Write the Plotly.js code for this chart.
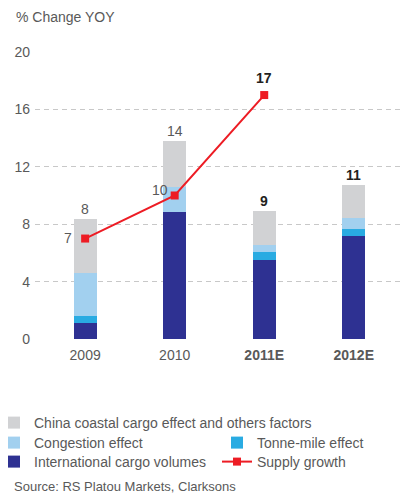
<!DOCTYPE html>
<html>
<head>
<meta charset="utf-8">
<script src="https://cdn.plot.ly/plotly-3.0.1.min.js"></script>
<style>html,body{margin:0;padding:0;background:#fff;}#chart{width:417px;height:493px;}</style>
</head>
<body>
<div id="chart"></div>
<script>
const categories = ["2009", "2010", "2011E", "2012E"];
const tickLabels = ["2009", "2010", "<b>2011E</b>", "<b>2012E</b>"];
const internationalCargo = [1.1, 8.85, 5.5, 7.2];
const tonneMile = [0.5, 0, 0.55, 0.5];
const congestion = [3.0, 1.75, 0.5, 0.7];
const chinaCoastal = [3.75, 3.2, 2.35, 2.3];
const supplyGrowth = [7, 10, 17, null];
const totalLabelBold = [false, false, true, true];

const FONT = "Liberation Sans, Arial, Helvetica, sans-serif";
const GREY_TXT = "#595959";
const DARK_TXT = "#231f20";
const W = 0.257;
const M = {l: 35, r: 14, t: 52, b: 154};
const PW = 417 - M.l - M.r, PH = 493 - M.t - M.b;
const px = x => (x - M.l) / PW;
const py = y => (493 - M.b - y) / PH;

const traces = [
  {type: "bar", name: "International cargo volumes", x: categories, y: internationalCargo,
   marker: {color: "#2e3192"}, width: W, legend: "legend4", hoverinfo: "skip"},
  {type: "bar", name: "Tonne-mile effect", x: categories, y: tonneMile,
   marker: {color: "#29abe2"}, width: W, legend: "legend3", hoverinfo: "skip"},
  {type: "bar", name: "Congestion effect", x: categories, y: congestion,
   marker: {color: "#a2d0ef"}, width: W, legend: "legend2", hoverinfo: "skip"},
  {type: "bar", name: "China coastal cargo effect and others factors", x: categories, y: chinaCoastal,
   marker: {color: "#d1d2d4"}, width: W, legend: "legend", hoverinfo: "skip"},
  {type: "scatter", mode: "lines+markers", name: "Supply growth", x: categories, y: supplyGrowth,
   line: {color: "#ed1c24", width: 2}, marker: {color: "#ed1c24", symbol: "square", size: 8},
   legend: "legend5", hoverinfo: "skip"}
];

// category axis: annotations positioned by category index
const annotations = [];
categories.forEach((c, i) => {
  const total = internationalCargo[i] + tonneMile[i] + congestion[i] + chinaCoastal[i];
  const txt = String(Math.round(total));
  annotations.push({
    x: i, y: total, xref: "x", yref: "y", yanchor: "bottom", yshift: 0,
    text: totalLabelBold[i] ? "<b>" + txt + "</b>" : txt, showarrow: false,
    font: {family: FONT, size: 14, color: totalLabelBold[i] ? DARK_TXT : GREY_TXT}
  });
});
const supplyLabelPos = [
  {xanchor: "right", yanchor: "middle", xshift: -11, yshift: 1, bold: false},
  {xanchor: "right", yanchor: "middle", xshift: -5, yshift: 6, bold: false},
  {xanchor: "center", yanchor: "bottom", xshift: 0, yshift: 7, bold: true}
];
supplyGrowth.forEach((v, i) => {
  if (v === null) return;
  const p = supplyLabelPos[i];
  annotations.push({
    x: i, y: v, xref: "x", yref: "y", xanchor: p.xanchor, yanchor: p.yanchor,
    xshift: p.xshift, yshift: p.yshift, showarrow: false,
    text: p.bold ? "<b>" + v + "</b>" : String(v),
    font: {family: FONT, size: 14, color: p.bold ? DARK_TXT : GREY_TXT}
  });
});
annotations.push({
  x: px(12), y: py(486), xref: "paper", yref: "paper", xanchor: "left", yanchor: "middle",
  showarrow: false, text: "Source: RS Platou Markets, Clarksons",
  font: {family: FONT, size: 13, color: GREY_TXT}
});

function leg(x, y) {
  return {xref: "paper", yref: "paper", x: px(x), y: py(y),
    xanchor: "left", yanchor: "middle", orientation: "v", bgcolor: "rgba(0,0,0,0)",
    borderwidth: 0, font: {family: FONT, size: 14, color: GREY_TXT},
    itemclick: false, itemdoubleclick: false, traceorder: "normal"};
}

const layout = {
  width: 417, height: 493,
  margin: {l: M.l, r: M.r, t: M.t, b: M.b, autoexpand: false},
  paper_bgcolor: "#fff", plot_bgcolor: "#fff",
  barmode: "stack",
  font: {family: FONT, size: 14, color: GREY_TXT},
  title: {text: "% Change YOY", xref: "container", yref: "container", x: 16 / 417, xanchor: "left",
    y: 1 - 17 / 493, yanchor: "middle", font: {family: FONT, size: 14, color: GREY_TXT}},
  xaxis: {type: "category", range: [-0.56, 3.55], tickvals: categories, ticktext: tickLabels,
    showgrid: false, zeroline: false, showline: false, ticks: "", ticklabelstandoff: 6,
    tickfont: {family: FONT, size: 14, color: GREY_TXT}, fixedrange: true},
  yaxis: {range: [0, 20], tickvals: [0, 4, 8, 12, 16, 20], showgrid: true,
    gridcolor: "#c8c8c8", griddash: "5px,4px", gridwidth: 1, zeroline: false, showline: false,
    ticks: "", ticklabelstandoff: 4, tickfont: {family: FONT, size: 14, color: GREY_TXT}, fixedrange: true},
  showlegend: true,
  legend: leg(-6, 423),
  legend2: leg(-6, 443),
  legend4: leg(-6, 462),
  legend3: leg(217, 443),
  legend5: leg(217, 462),
  annotations: annotations
};

Plotly.newPlot("chart", traces, layout, {displayModeBar: false, staticPlot: true});
</script>
</body>
</html>
